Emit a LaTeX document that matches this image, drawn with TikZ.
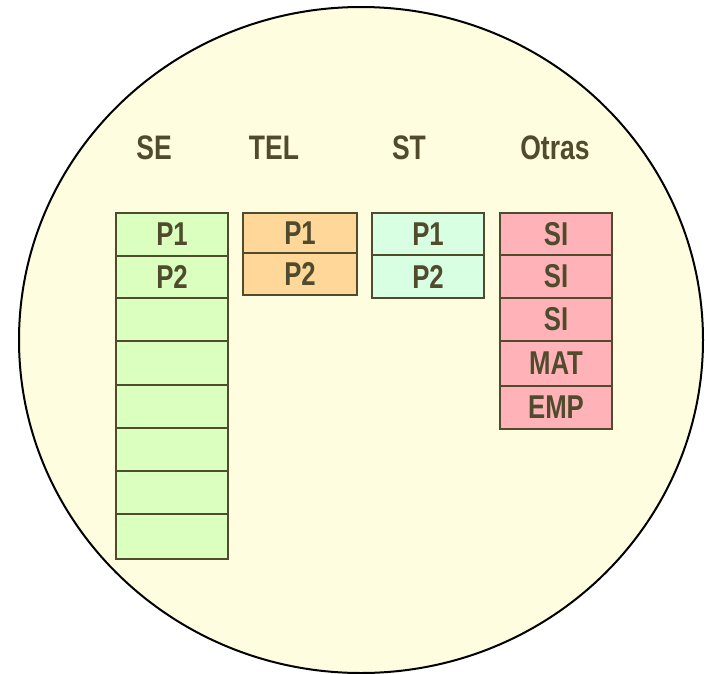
\documentclass[tikz,border=0pt]{standalone}
\usepackage{fontspec}
\setmainfont[FakeStretch=0.78]{Liberation Sans}
\definecolor{ink}{RGB}{80,75,45}
\definecolor{bg}{RGB}{255,253,224}
\definecolor{segreen}{RGB}{218,255,190}
\definecolor{telorange}{RGB}{255,216,153}
\definecolor{stmint}{RGB}{217,255,226}
\definecolor{otpink}{RGB}{255,179,184}
\tikzset{
  cell/.style={draw=ink, line width=2.6pt, rectangle, inner sep=0pt, minimum width=112pt,
    text=ink, font=\fontsize{33}{36}\selectfont\bfseries},
  head/.style={anchor=base, text=ink, inner sep=0pt, font=\fontsize{34}{38}\selectfont\bfseries}
}
\begin{document}
\begin{tikzpicture}[x=1pt,y=-1pt]
\useasboundingbox (0,0) rectangle (705,673);
\draw[fill=bg, line width=2pt] (361,340) ellipse [x radius=342, y radius=333];
% headers
\node[head] (hse) at (154,159) {SE};
\node[head] (htel) at (274,159) {TEL};
\node[head] (hst) at (409,159) {ST};
\node[head] (hot) at (555,159) {Otras};
% SE column
\node[cell, fill=segreen, minimum height=43pt] (se1) at (172,234.5) {P1};
\node[cell, fill=segreen, minimum height=42pt] (se2) at (172,277) {P2};
\node[cell, fill=segreen, minimum height=43pt] (se3) at (172,319.5) {};
\node[cell, fill=segreen, minimum height=44pt] (se4) at (172,363) {};
\node[cell, fill=segreen, minimum height=43pt] (se5) at (172,406.5) {};
\node[cell, fill=segreen, minimum height=43pt] (se6) at (172,449.5) {};
\node[cell, fill=segreen, minimum height=43pt] (se7) at (172,492.5) {};
\node[cell, fill=segreen, minimum height=45pt] (se8) at (172,536.5) {};
% TEL column
\node[cell, fill=telorange, minimum width=114pt, minimum height=40pt] (tel1) at (300,233) {P1};
\node[cell, fill=telorange, minimum width=114pt, minimum height=42pt] (tel2) at (300,274) {P2};
% ST column
\node[cell, fill=stmint, minimum height=42pt] (st1) at (428,234) {P1};
\node[cell, fill=stmint, minimum height=43pt] (st2) at (428,276.5) {P2};
% Otras column
\node[cell, fill=otpink, minimum height=42pt] (ot1) at (556,234) {SI};
\node[cell, fill=otpink, minimum height=43pt] (ot2) at (556,276.5) {SI};
\node[cell, fill=otpink, minimum height=43pt] (ot3) at (556,319.5) {SI};
\node[cell, fill=otpink, minimum height=45pt] (ot4) at (556,363.5) {MAT};
\node[cell, fill=otpink, minimum height=43pt] (ot5) at (556,407.5) {EMP};
\end{tikzpicture}
\end{document}
